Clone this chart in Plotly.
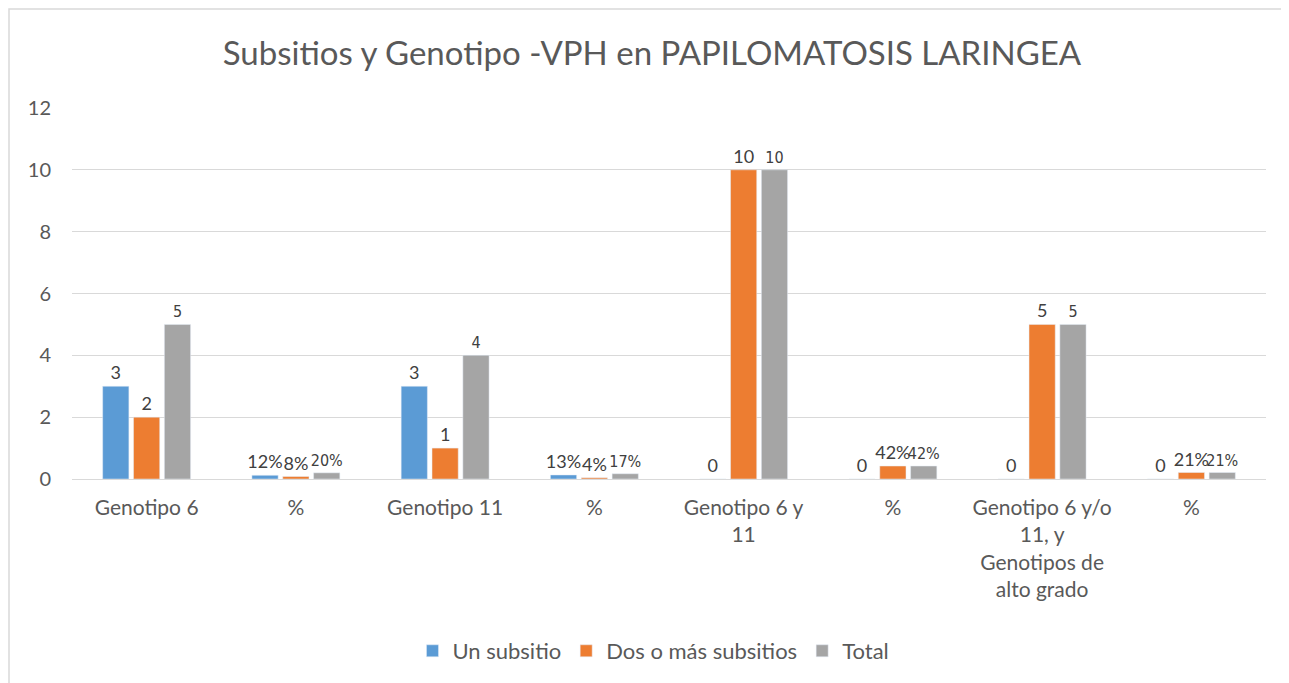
import plotly.graph_objects as go

categories = ["Genotipo 6", "%", "Genotipo 11", "%", "Genotipo 6 y<br>11", "%",
              "Genotipo 6 y/o<br>11, y<br>Genotipos de<br>alto grado", "%"]
un_subsitio = [3, 0.12, 3, 0.13, 0, 0, 0, 0]
un_labels = ["3", "12%", "3", "13%", "0", "0", "0", "0"]
dos_mas = [2, 0.08, 1, 0.04, 10, 0.42, 5, 0.21]
dos_labels = ["2", "8%", "1", "4%", "10", "42%", "5", "21%"]
total = [5, 0.20, 4, 0.17, 10, 0.42, 5, 0.21]
total_labels = ["5", "20%", "4", "17%", "10", "42%", "5", "21%"]
y_ticks = [0, 2, 4, 6, 8, 10, 12]

positions = list(range(len(categories)))
font_main = "Lato, Open Sans, sans-serif"
txt_color = "#404040"

fig = go.Figure()
fig.add_trace(go.Bar(x=positions, y=un_subsitio, name="Un subsitio", marker_color="#5b9bd5",
                     text=un_labels, textposition="outside", cliponaxis=False, constraintext="none",
                     textfont=dict(family=font_main, size=18, color=txt_color)))
fig.add_trace(go.Bar(x=positions, y=dos_mas, name="Dos o más subsitios", marker_color="#ed7d31",
                     text=dos_labels, textposition="outside", cliponaxis=False, constraintext="none",
                     textfont=dict(family=font_main, size=18, color=txt_color)))
fig.add_trace(go.Bar(x=positions, y=total, name="Total", marker_color="#a5a5a5",
                     text=total_labels, textposition="outside", cliponaxis=False, constraintext="none",
                     textfont=dict(family="DejaVu Sans Condensed, Liberation Sans Narrow, sans-serif",
                                   size=16, color=txt_color)))

fig.update_layout(
    width=1289, height=683,
    paper_bgcolor="white", plot_bgcolor="white",
    margin=dict(l=64, r=31, t=100, b=212),
    barmode="group", bargap=0.38, bargroupgap=0.15,
    font=dict(family=font_main, color="#595959", size=21),
    title=dict(text="Subsitios y Genotipo -VPH en PAPILOMATOSIS LARINGEA",
               x=(652 - 8) / 1289, xref="container", xanchor="center",
               y=1 - 45 / 683, yanchor="middle",
               font=dict(family=font_main, size=33, color="#595959")),
    legend=dict(orientation="h", x=0.487, xanchor="center", y=-0.4636, yanchor="middle",
                font=dict(size=22, color="#595959"), itemwidth=30, traceorder="normal"),
    xaxis=dict(tickmode="array", tickvals=positions, ticktext=categories,
               range=[-0.5, len(categories) - 0.5], showgrid=False, showline=False,
               ticks="", ticklabelstandoff=14, tickfont=dict(size=21, color="#595959"), tickangle=0),
    yaxis=dict(range=[0, 12], tickmode="array", tickvals=y_ticks, showgrid=True,
               gridcolor="#d9d9d9", gridwidth=1, zeroline=True, zerolinecolor="#d9d9d9",
               zerolinewidth=1, ticks="", ticklabelstandoff=20,
               tickfont=dict(size=20, color="#595959")),
    shapes=[dict(type="rect", xref="paper", yref="paper",
                 x0=(9 - 72) / 1194, x1=1.1, y0=-0.8, y1=(479 - 9) / 371,
                 line=dict(color="#d9d9d9", width=1.5), fillcolor="rgba(0,0,0,0)", layer="below")],
)

fig.write_html("out.html")
